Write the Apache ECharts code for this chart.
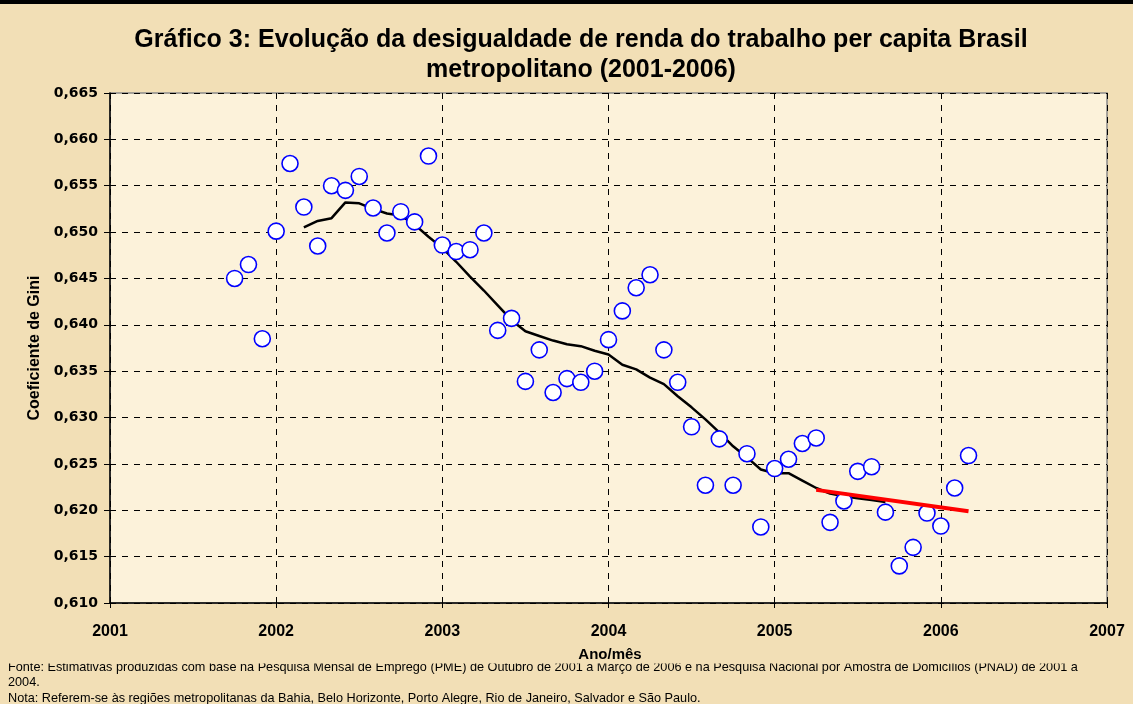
<!DOCTYPE html>
<html>
<head>
<meta charset="utf-8">
<script src="https://cdn.jsdelivr.net/npm/echarts@6/dist/echarts.min.js"></script>
<style>
html,body{margin:0;padding:0;background:#f2dfb6;}
#chart{width:1133px;height:704px;}
</style>
</head>
<body>
<div id="chart"></div>
<script>
// Months (year-month) of the observations, Oct 2001 - Mar 2006
var months = [
 '2001-10','2001-11','2001-12',
 '2002-01','2002-02','2002-03','2002-04','2002-05','2002-06','2002-07','2002-08','2002-09','2002-10','2002-11','2002-12',
 '2003-01','2003-02','2003-03','2003-04','2003-05','2003-06','2003-07','2003-08','2003-09','2003-10','2003-11','2003-12',
 '2004-01','2004-02','2004-03','2004-04','2004-05','2004-06','2004-07','2004-08','2004-09','2004-10','2004-11','2004-12',
 '2005-01','2005-02','2005-03','2005-04','2005-05','2005-06','2005-07','2005-08','2005-09','2005-10','2005-11','2005-12',
 '2006-01','2006-02','2006-03'
];
// Monthly Gini coefficient
var gini = [
 0.6450,0.6465,0.6385,
 0.6501,0.6574,0.6527,0.6485,0.6550,0.6545,0.6560,0.6526,0.6499,0.6522,0.6511,0.6582,
 0.6486,0.6479,0.6481,0.6499,0.6394,0.6407,0.6339,0.6373,0.6327,0.6342,0.6338,0.6350,
 0.6384,0.6415,0.6440,0.6454,0.6373,0.6338,0.6290,0.6227,0.6277,0.6227,0.6261,0.6182,
 0.6245,0.6255,0.6272,0.6278,0.6187,0.6210,0.6242,0.6247,0.6198,0.6140,0.6160,0.6197,
 0.6183,0.6224,0.6259
];
// Moving average (black line), months 2002-03 .. 2005-09
var maMonths = months.slice(5, 48);
var movingAvg = [
 0.6505,0.6512,0.6515,0.6532,0.6531,0.6525,0.6520,0.6518,0.6508,0.6495,
 0.6483,0.6468,0.6452,0.6437,0.6421,0.6405,0.6393,0.6388,0.6383,0.6379,0.6377,0.6372,
 0.6368,0.6357,0.6352,0.6343,0.6336,0.6323,0.6311,0.6298,0.6284,0.6269,0.6257,0.6244,
 0.6240,0.6240,0.6232,0.6224,0.6218,0.6215,0.6213,0.6211,0.6209
];
// Trend (red line)
var trendMonths = ['2005-04','2006-03'];
var trendValues = [0.6222, 0.6199];

var xTicks = [2001,2002,2003,2004,2005,2006,2007];

function toYear(m){ var p = m.split('-'); return +p[0] + (+p[1]-1)/12; }
function pairs(ms, vs){ return ms.map(function(m,i){ return [toYear(m), vs[i]]; }); }

var chart = echarts.init(document.getElementById('chart'));
var font = 'Liberation Sans, Arial, sans-serif';
var bg = '#f2dfb6';
chart.setOption({
  backgroundColor: bg,
  animation: false,
  textStyle: {fontFamily: font},
  grid: {left: 110, right: 26, top: 93, bottom: 101, show: true,
         backgroundColor: '#fcf2da', borderColor: '#8a8a8a', borderWidth: 1.5},
  xAxis: {
    type: 'value', min: xTicks[0], max: xTicks[xTicks.length-1], interval: 1,
    axisLine: {show: true, lineStyle: {color: '#000', width: 1.5}},
    axisTick: {show: true, length: 5, lineStyle: {color: '#000'}},
    axisLabel: {color: '#000', fontWeight: 'bold', fontSize: 16, margin: 21, fontFamily: font,
                formatter: function(v){ return String(Math.round(v)); }},
    splitLine: {show: true, lineStyle: {color: '#000', type: [6,6], width: 1}}
  },
  yAxis: {
    type: 'value', min: 0.610, max: 0.665, interval: 0.005,
    name: 'Coeficiente de Gini', nameLocation: 'middle', nameGap: 65, nameRotate: 90,
    nameTextStyle: {color: '#000', fontWeight: 'bold', fontSize: 16, fontFamily: font},
    axisLine: {show: true, lineStyle: {color: '#000', width: 1.5}},
    axisTick: {show: true, length: 6, lineStyle: {color: '#000'}},
    axisLabel: {color: '#000', fontWeight: 'bold', fontSize: 14, margin: 12, fontFamily: 'DejaVu Sans, sans-serif',
                formatter: function(v){ return v.toFixed(3).replace('.', ','); }},
    splitLine: {show: true, lineStyle: {color: '#000', type: [6,6], width: 1}}
  },
  series: [
    {type: 'line', data: pairs(maMonths, movingAvg), showSymbol: false, symbol: 'none',
     lineStyle: {color: '#000', width: 2.5}, z: 2},
    {type: 'scatter', data: pairs(months, gini), symbol: 'circle', symbolSize: 16,
     itemStyle: {color: '#fff', borderColor: '#0000ff', borderWidth: 1.6, opacity: 1}, z: 3},
    {type: 'line', data: pairs(trendMonths, trendValues), showSymbol: false, symbol: 'none',
     lineStyle: {color: '#ff0000', width: 4}, z: 4}
  ],
  graphic: [
    {type: 'rect', left: 0, top: 0, shape: {width: 1133, height: 4}, style: {fill: '#000'}, z: 10},
    {type: 'text', x: 581, y: 40, z: 10, style: {text: 'Gráfico 3: Evolução da desigualdade de renda do trabalho per capita Brasil',
      fill: '#000', font: 'bold 25px ' + font, textAlign: 'center', textVerticalAlign: 'middle'}},
    {type: 'text', x: 581, y: 70, z: 10, style: {text: 'metropolitano (2001-2006)',
      fill: '#000', font: 'bold 25px ' + font, textAlign: 'center', textVerticalAlign: 'middle'}},
    {type: 'text', x: 8, y: 667, z: 10, style: {text: 'Fonte: Estimativas produzidas com base na Pesquisa Mensal de Emprego (PME) de Outubro de 2001 a Março de 2006 e na Pesquisa Nacional por Amostra de Domicílios (PNAD) de 2001 a',
      fill: '#000', font: '12.7px ' + font, textVerticalAlign: 'middle'}},
    {type: 'rect', left: 0, top: 640, z: 11, shape: {width: 1133, height: 23.5}, style: {fill: bg}},
    {type: 'text', x: 610, y: 655, z: 12, style: {text: 'Ano/mês', fill: '#000', font: 'bold 15px ' + font, textAlign: 'center', textVerticalAlign: 'middle'}},
    {type: 'text', x: 8, y: 682, z: 10, style: {text: '2004.', fill: '#000', font: '12.7px ' + font, textVerticalAlign: 'middle'}},
    {type: 'text', x: 8, y: 698, z: 10, style: {text: 'Nota: Referem-se às regiões metropolitanas da Bahia, Belo Horizonte, Porto Alegre, Rio de Janeiro, Salvador e São Paulo.',
      fill: '#000', font: '12.7px ' + font, textVerticalAlign: 'middle'}}
  ]
});
</script>
</body>
</html>
